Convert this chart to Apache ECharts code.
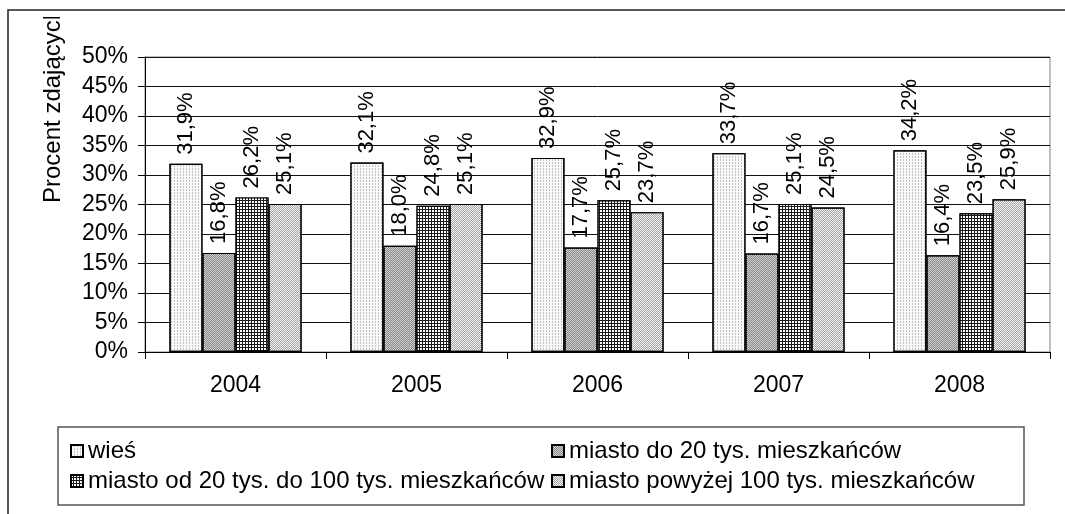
<!DOCTYPE html>
<html>
<head>
<meta charset="utf-8">
<script src="https://cdn.jsdelivr.net/npm/echarts@6/dist/echarts.min.js"></script>
<style>
html,body{margin:0;padding:0;background:#fff;}
#chart{width:1065px;height:514px;}
</style>
</head>
<body>
<div id="chart"></div>
<script>
const categories = ['2004', '2005', '2006', '2007', '2008'];
const seriesNames = ['wieś', 'miasto do 20 tys. mieszkańców', 'miasto od 20 tys. do 100 tys. mieszkańców', 'miasto powyżej 100 tys. mieszkańców'];
const wies = [31.9, 32.1, 32.9, 33.7, 34.2];
const miastoDo20 = [16.8, 18.0, 17.7, 16.7, 16.4];
const miasto20do100 = [26.2, 24.8, 25.7, 25.1, 23.5];
const miastoPowyzej100 = [25.1, 25.1, 23.7, 24.5, 25.9];
const yTicks = [0, 5, 10, 15, 20, 25, 30, 35, 40, 45, 50];
const yAxisTitle = 'Procent zdających';

const FONT = "'Liberation Sans', Arial, sans-serif";
const styles = [
  {color: '#fafafa', decal: {symbol: 'rect', color: '#c2c2c2', dashArrayX: [1, 2], dashArrayY: [2, 1], symbolSize: 1}},
  {color: '#cdcdcd', decal: {symbol: 'rect', color: '#8c8c8c', dashArrayX: [[1, 1], [0, 1, 1, 0]], dashArrayY: [1, 0], symbolSize: 1}},
  {color: '#1a1a1a', decal: {symbol: 'rect', color: '#ffffff', dashArrayX: [2, 1], dashArrayY: [2, 1], symbolSize: 1}},
  {color: '#f2f2f2', decal: {symbol: 'rect', color: '#a6a6a6', dashArrayX: [[1, 1], [0, 1, 1, 0]], dashArrayY: [1, 0], symbolSize: 1}}
];
const dataSets = [wies, miastoDo20, miasto20do100, miastoPowyzej100];

const chart = echarts.init(document.getElementById('chart'), null, {renderer: 'canvas'});
const fmt = v => v.toFixed(1).replace('.', ',') + '%';

const option = {
  animation: false,
  backgroundColor: '#ffffff',
  textStyle: {fontFamily: FONT},
  grid: {left: 145, right: 15, top: 57, bottom: 162, show: true, borderColor: '#808080', borderWidth: 1, backgroundColor: 'transparent'},
  xAxis: {
    type: 'category',
    data: categories,
    axisLine: {lineStyle: {color: '#000', width: 1}},
    axisTick: {show: true, length: 7, lineStyle: {color: '#000'}, alignWithLabel: false},
    axisLabel: {color: '#000', fontSize: 23, fontFamily: FONT, margin: 22},
    splitLine: {show: false}
  },
  yAxis: {
    type: 'value',
    min: yTicks[0],
    max: yTicks[yTicks.length - 1],
    interval: yTicks[1] - yTicks[0],
    axisLine: {show: true, lineStyle: {color: '#000', width: 1}},
    axisTick: {show: true, length: 7, lineStyle: {color: '#000'}},
    axisLabel: {color: '#000', fontSize: 23, fontFamily: FONT, margin: 17, formatter: v => v + '%'},
    splitLine: {show: true, lineStyle: {color: '#111', width: 1}}
  },
  legend: [
    {
      data: [seriesNames[0], seriesNames[2]],
      orient: 'vertical', left: 65, top: 434, itemWidth: 12, itemHeight: 12, itemGap: 6,
      icon: 'rect',
      textStyle: {color: '#000', fontSize: 24, fontFamily: FONT}
    },
    {
      data: [seriesNames[1], seriesNames[3]],
      orient: 'vertical', left: 546, top: 434, itemWidth: 12, itemHeight: 12, itemGap: 6,
      icon: 'rect',
      textStyle: {color: '#000', fontSize: 24, fontFamily: FONT}
    }
  ],
  series: dataSets.map((d, i) => ({
    name: seriesNames[i],
    type: 'bar',
    data: d,
    barGap: '0%',
    barCategoryGap: '27%',
    itemStyle: {color: styles[i].color, decal: styles[i].decal, borderColor: '#000', borderWidth: 1.2},
    label: {
      show: true, position: 'top', rotate: 90, align: 'left', verticalAlign: 'middle', distance: 9,
      color: '#000', fontSize: 22, fontFamily: FONT, formatter: p => fmt(p.value)
    }
  })),
  graphic: [
    {type: 'text', z: 98, silent: true, x: 53, y: 203, rotation: Math.PI / 2,
      style: {text: yAxisTitle, fill: '#000', font: "24px 'Liberation Sans', Arial, sans-serif", textAlign: 'left', textVerticalAlign: 'middle'}},
    {type: 'rect', z: 99, silent: true, shape: {x: 30, y: 0, width: 50, height: 17}, style: {fill: '#ffffff', stroke: 'none'}},
    {type: 'rect', z: 100, silent: true, shape: {x: 8, y: 10, width: 1200, height: 700}, style: {fill: 'none', stroke: '#222', lineWidth: 1.5}},
    {type: 'rect', z: 100, silent: true, shape: {x: 58, y: 427, width: 966, height: 78}, style: {fill: 'none', stroke: '#555', lineWidth: 1.5}}
  ]
};
chart.setOption(option);
</script>
</body>
</html>
